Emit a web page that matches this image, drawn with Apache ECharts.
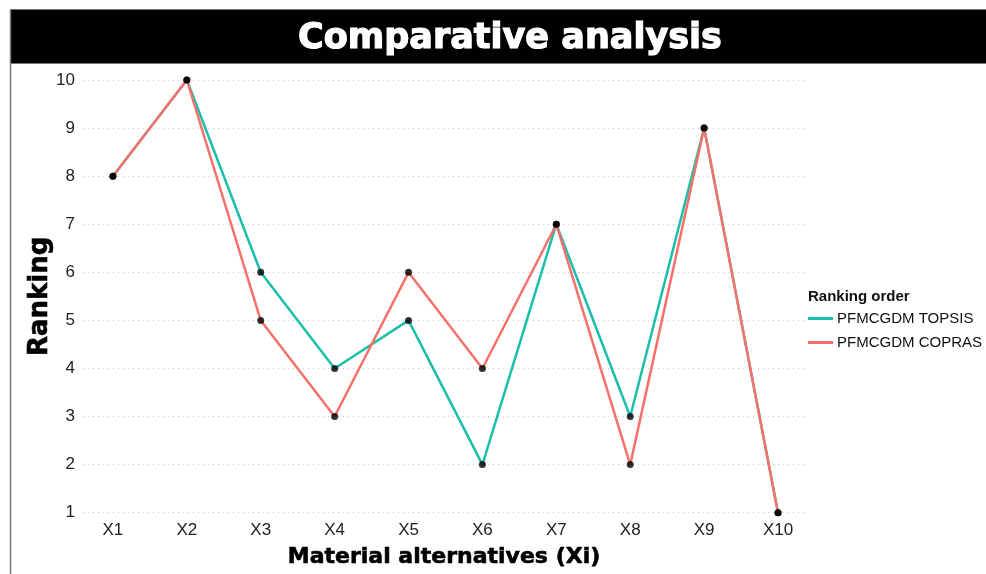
<!DOCTYPE html>
<html>
<head>
<meta charset="utf-8">
<script src="https://cdn.jsdelivr.net/npm/echarts@6/dist/echarts.min.js"></script>
<style>
html,body{margin:0;padding:0;background:#fff;}
#chart{width:986px;height:574px;}
</style>
</head>
<body>
<div id="chart"></div>
<script>
var categories = ['X1','X2','X3','X4','X5','X6','X7','X8','X9','X10'];
var topsis = [8, 10, 6, 4, 5, 2, 7, 3, 9, 1];
var copras = [8, 10, 5, 3, 6, 4, 7, 2, 9, 1];
var yTicks = [1,2,3,4,5,6,7,8,9,10];
var seriesNames = ['PFMCGDM TOPSIS', 'PFMCGDM COPRAS'];
var colors = ['#1BBFAB', '#F7716B'];

function pts(vals){ return vals.map(function(v,i){ return [i+1, v]; }); }
var xPositions = categories.map(function(c,i){ return i+1; });

var chart = echarts.init(document.getElementById('chart'), null, {renderer:'canvas'});
var option = {
  animation: false,
  backgroundColor: '#fff',
  title: [
    {
      text: 'Comparative analysis',
      left: 505, top: 16, textAlign: 'center',
      textStyle: {color:'#fff', fontFamily:'DejaVu Sans', fontWeight:'bold', fontSize:35,
                  textBorderColor:'#fff', textBorderWidth:1.2}
    },
    {
      text: 'Ranking order',
      left: 803, top: 284,
      textStyle: {color:'#111', fontFamily:'Liberation Sans', fontWeight:'bold', fontSize:15}
    }
  ],
  graphic: [
    {type:'rect', z:-1, shape:{x:10.5, y:9.5, width:1000, height:54}, style:{fill:'#000', stroke:'#777', lineWidth:1}},
    {type:'line', shape:{x1:10.5, y1:10, x2:10.5, y2:574}, style:{stroke:'#777', lineWidth:1.5}}
  ],
  legend: {
    data: seriesNames,
    orient: 'vertical',
    left: 803, top: 306,
    itemWidth: 25, itemHeight: 3, itemGap: 9,
    icon: 'rect',
    textStyle: {color:'#111', fontFamily:'Liberation Sans', fontSize:15, padding:[0,0,0,-1]}
  },
  grid: {left:83, right:181, top:80, bottom:61, containLabel:false},
  xAxis: {
    type:'value', min:0.595, max:10.365,
    name:'Material alternatives (Xi)', nameLocation:'middle', nameGap:34,
    nameTextStyle:{color:'#000', fontFamily:'DejaVu Sans', fontWeight:'bold', fontSize:22,
                   textBorderColor:'#000', textBorderWidth:0.6},
    axisLine:{show:false}, axisTick:{show:false}, splitLine:{show:false},
    axisLabel:{
      customValues: xPositions, margin:9, color:'#222', fontFamily:'Liberation Sans', fontSize:17,
      formatter:function(v){ return categories[Math.round(v)-1] || ''; }
    }
  },
  yAxis: {
    type:'value', min:1, max:10, interval:1,
    name:'Ranking', nameLocation:'middle', nameGap:30, nameMoveOverlap:false,
    nameTextStyle:{color:'#000', fontFamily:'DejaVu Sans', fontWeight:'bold', fontSize:26,
                   textBorderColor:'#000', textBorderWidth:0.6},
    axisLine:{show:false}, axisTick:{show:false},
    axisLabel:{margin:8, color:'#222', fontFamily:'Liberation Sans', fontSize:17},
    splitLine:{show:true, lineStyle:{color:'#c8c8c8', type:[1,4], width:1}}
  },
  series: [
    {name:seriesNames[0], type:'line', data:pts(topsis), showSymbol:false, clip:false,
     color:colors[0], lineStyle:{width:2.5, color:colors[0]}, z:2},
    {name:seriesNames[1], type:'line', data:pts(copras), showSymbol:false, clip:false,
     color:colors[1], lineStyle:{width:2.5, color:colors[1]}, z:3},
    {name:'pts1', type:'scatter', data:pts(topsis), symbolSize:7, itemStyle:{color:'#000'}, z:5, clip:false},
    {name:'pts2', type:'scatter', data:pts(copras), symbolSize:7, itemStyle:{color:'#000'}, z:5, clip:false}
  ]
};
chart.setOption(option);
</script>
</body>
</html>
